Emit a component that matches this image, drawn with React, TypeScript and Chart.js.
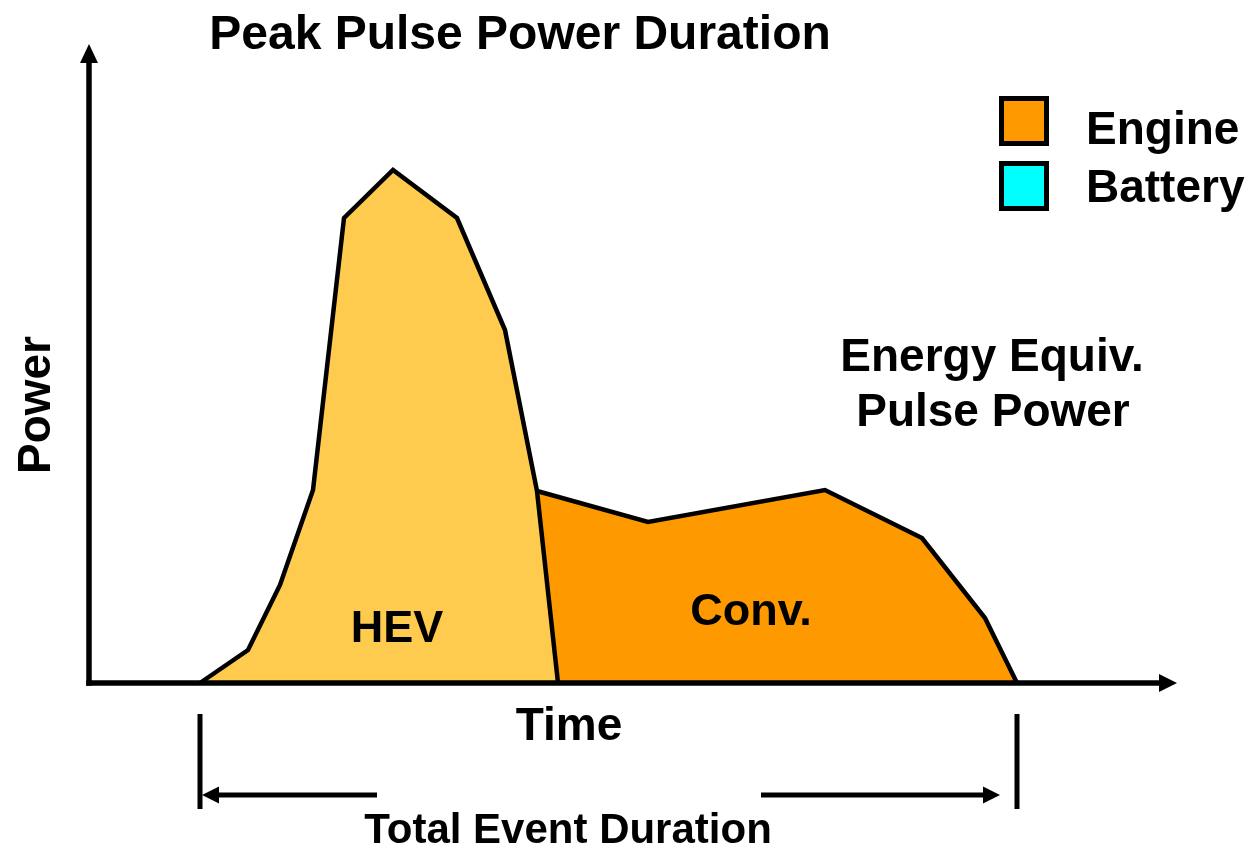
import React, { useEffect, useRef } from "react";
import { Chart, registerables } from "chart.js";

Chart.register(...registerables);

// Time / power in arbitrary units
const hevTime = [11, 15.8, 19, 22.3, 25.4, 30.3, 36.7, 41.5, 44.7, 46.8];
const hevPower = [0, 3.3, 9.8, 19.3, 46.5, 51.3, 46.5, 35.3, 19.2, 0];
const convTime = [44.7, 55.8, 73.5, 83.2, 89.5, 92.7];
const convPower = [19.2, 16.1, 19.3, 14.5, 6.5, 0];

const seriesNames = ["HEV", "Conv."];
const legendLabels = ["Engine", "Battery"];
const legendColors = ["#FF9900", "#00FFFF"];
const hevColor = "#FFCB4F";
const convColor = "#FF9900";

const titleText = "Peak Pulse Power Duration";
const xAxisLabel = "Time";
const yAxisLabel = "Power";
const noteLines = ["Energy Equiv.", "Pulse Power"];
const durationLabel = "Total Event Duration";

// event span (start and end of total event)
const eventStart = 11;
const eventEnd = 92.7;

const FONT = '"Liberation Sans", Arial, sans-serif';

function arrowHead(ctx: CanvasRenderingContext2D, tipX: number, tipY: number, dir: "up" | "right" | "left", len: number, half: number) {
  ctx.beginPath();
  if (dir === "up") {
    ctx.moveTo(tipX, tipY);
    ctx.lineTo(tipX - half, tipY + len);
    ctx.lineTo(tipX + half, tipY + len);
  } else if (dir === "right") {
    ctx.moveTo(tipX, tipY);
    ctx.lineTo(tipX - len, tipY - half);
    ctx.lineTo(tipX - len, tipY + half);
  } else {
    ctx.moveTo(tipX, tipY);
    ctx.lineTo(tipX + len, tipY - half);
    ctx.lineTo(tipX + len, tipY + half);
  }
  ctx.closePath();
  ctx.fill();
}

const decorPlugin = {
  id: "decor",
  afterDatasetsDraw(chart: any) {
    const ctx: CanvasRenderingContext2D = chart.ctx;
    const xs = chart.scales.x;
    const ys = chart.scales.y;
    const X = (v: number) => xs.getPixelForValue(v);
    const Y = (v: number) => ys.getPixelForValue(v);
    ctx.save();
    ctx.fillStyle = "#000";
    ctx.strokeStyle = "#000";
    ctx.lineCap = "butt";

    // axes
    const ox = X(-0.1);
    const oy = Y(0);
    ctx.lineWidth = 5.5;
    ctx.beginPath();
    ctx.moveTo(ox, oy + 2.75);
    ctx.lineTo(ox, Y(63.9) + 16);
    ctx.stroke();
    arrowHead(ctx, ox, Y(63.9), "up", 19, 9);
    ctx.beginPath();
    ctx.moveTo(ox - 2.75, oy);
    ctx.lineTo(X(108.7) - 16, oy);
    ctx.stroke();
    arrowHead(ctx, X(108.7), oy, "right", 18, 9);

    // duration bracket
    const bx1 = X(eventStart);
    const bx2 = X(eventEnd);
    ctx.lineWidth = 5;
    ctx.beginPath();
    ctx.moveTo(bx1, Y(-3.1));
    ctx.lineTo(bx1, Y(-12.6));
    ctx.moveTo(bx2, Y(-3.1));
    ctx.lineTo(bx2, Y(-12.6));
    ctx.stroke();
    const ay = Y(-11.2);
    ctx.lineWidth = 5;
    ctx.beginPath();
    ctx.moveTo(bx1 + 12, ay);
    ctx.lineTo(X(28.7), ay);
    ctx.moveTo(X(67.1), ay);
    ctx.lineTo(bx2 - 17 - 12, ay);
    ctx.stroke();
    arrowHead(ctx, bx1 + 2, ay, "left", 17, 8.5);
    arrowHead(ctx, bx2 - 17, ay, "right", 17, 8.5);

    // legend
    legendLabels.forEach((lab, i) => {
      const top = 97 + i * 65;
      ctx.fillStyle = legendColors[i];
      ctx.fillRect(999, top - 1, 50, 50);
      ctx.lineWidth = 5;
      ctx.strokeStyle = "#000";
      ctx.strokeRect(1001.5, top + 1.5, 45, 45);
      ctx.fillStyle = "#000";
      ctx.font = `bold 46px ${FONT}`;
      ctx.textAlign = "left";
      ctx.textBaseline = "alphabetic";
      ctx.fillText(lab, 1086, 144 + i * 58);
    });

    // texts
    ctx.fillStyle = "#000";
    ctx.textAlign = "center";
    ctx.textBaseline = "alphabetic";
    ctx.font = `bold 48px ${FONT}`;
    ctx.fillText(titleText, 520, 49);
    ctx.font = `bold 46px ${FONT}`;
    ctx.fillText(noteLines[0], 992, 371);
    ctx.fillText(noteLines[1], 993, 426);
    ctx.font = `bold 45px ${FONT}`;
    ctx.fillText(seriesNames[0], 397, 642);
    ctx.fillText(seriesNames[1], 751, 625);
    ctx.font = `bold 46px ${FONT}`;
    ctx.fillText(xAxisLabel, 569, 740);
    ctx.font = `bold 42px ${FONT}`;
    ctx.fillText(durationLabel, 568, 843);

    ctx.save();
    ctx.translate(50, 405);
    ctx.rotate(-Math.PI / 2);
    ctx.font = `bold 46px ${FONT}`;
    ctx.fillText(yAxisLabel, 0, 0);
    ctx.restore();

    ctx.restore();
  },
};

export default function App() {
  const ref = useRef<HTMLCanvasElement>(null);
  useEffect(() => {
    const canvas = ref.current;
    if (!canvas) return;
    const hev = hevTime.map((t, i) => ({ x: t, y: hevPower[i] }));
    const conv = convTime.map((t, i) => ({ x: t, y: convPower[i] }));
    const chart = new Chart(canvas, {
      type: "line",
      data: {
        datasets: [
          {
            label: seriesNames[0],
            data: hev,
            borderColor: "#000",
            borderWidth: 4.5,
            backgroundColor: hevColor,
            fill: "origin",
            pointRadius: 0,
            tension: 0,
            borderJoinStyle: "miter",
          },
          {
            label: seriesNames[1],
            data: conv,
            borderColor: "#000",
            borderWidth: 4.5,
            backgroundColor: convColor,
            fill: "origin",
            pointRadius: 0,
            tension: 0,
            borderJoinStyle: "miter",
          },
        ],
      },
      options: {
        animation: false,
        responsive: false,
        layout: { padding: 0 },
        plugins: { legend: { display: false }, tooltip: { enabled: false }, title: { display: false } },
        scales: {
          x: { type: "linear", display: false, min: -9, max: 116.3 },
          y: { type: "linear", display: false, min: -16.4, max: 68.3 },
        },
      },
      plugins: [decorPlugin],
    });
    return () => chart.destroy();
  }, []);
  return (
    <div style={{ position: "fixed", left: 0, top: 0, width: 1253, height: 847, background: "#fff" }}>
      <canvas ref={ref} width={1253} height={847} style={{ display: "block" }} />
    </div>
  );
}
